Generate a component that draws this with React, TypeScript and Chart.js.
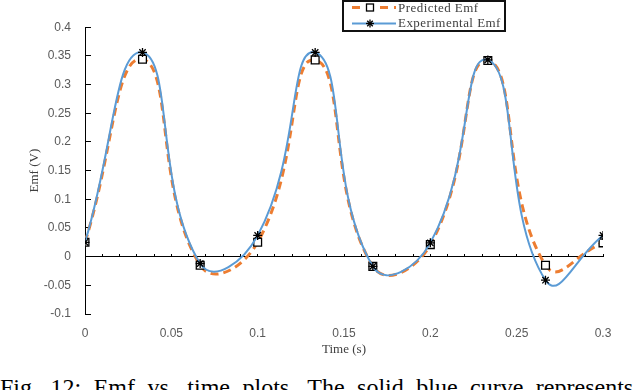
import { useEffect, useRef } from "react";
import { Chart, registerables } from "chart.js";

Chart.register(...registerables);

const timeS = [0, 0.0333, 0.0667, 0.1, 0.1333, 0.1667, 0.2, 0.2333, 0.2667, 0.3];
const predictedEmf = [0.025, 0.344, -0.015, 0.025, 0.343, -0.017, 0.021, 0.342, -0.015, 0.024];
const experimentalEmf = [0.025, 0.356, -0.012, 0.037, 0.356, -0.017, 0.024, 0.343, -0.041, 0.037];
const xTickValues = [0, 0.05, 0.1, 0.15, 0.2, 0.25, 0.3];
const yTickValues = [-0.1, -0.05, 0, 0.05, 0.1, 0.15, 0.2, 0.25, 0.3, 0.35, 0.4];
const seriesNames = ["Predicted Emf", "Experimental Emf"];
const xTitle = "Time (s)";
const yTitle = "Emf (V)";
const caption = "Fig. 12: Emf vs. time plots. The solid blue curve represents";

const ORANGE = "#ED7D31";
const BLUE = "#5B9BD5";

const fmt = (v: number | string) => `${+Number(v).toFixed(3)}`;

export default function App() {
  const ref = useRef<HTMLCanvasElement>(null);

  useEffect(() => {
    const chart = new Chart(ref.current as HTMLCanvasElement, {
      type: "line",
      data: {
        datasets: [
          {
            label: seriesNames[0],
            data: timeS.map((t, i) => ({ x: t, y: predictedEmf[i] })),
            xAxisID: "x",
            yAxisID: "y",
            borderColor: ORANGE,
            borderWidth: 3,
            borderDash: [8, 5],
            tension: 0.5,
            fill: false,
            pointStyle: "rect",
            pointRadius: 5.5,
            pointBorderColor: "#000",
            pointBackgroundColor: "#fff",
            pointBorderWidth: 1.3,
            order: 2,
          },
          {
            label: seriesNames[1],
            data: timeS.map((t, i) => ({ x: t, y: experimentalEmf[i] })),
            xAxisID: "x",
            yAxisID: "y",
            borderColor: BLUE,
            borderWidth: 2,
            tension: 0.5,
            fill: false,
            pointStyle: "star",
            pointRadius: 4.5,
            pointBorderColor: "#000",
            pointBackgroundColor: "#000",
            pointBorderWidth: 1.3,
            order: 1,
          },
        ],
      },
      options: {
        responsive: false,
        animation: false,
        events: [],
        layout: { padding: { top: 17, right: 37, left: 0, bottom: 0 } },
        plugins: { legend: { display: false }, tooltip: { enabled: false } },
        scales: {
          x: {
            type: "linear",
            position: "bottom",
            min: 0,
            max: 0.3,
            afterBuildTicks: (s: any) => {
              s.ticks = xTickValues.map((v) => ({ value: v }));
            },
            afterFit: (s: any) => {
              s.height = 46;
            },
            border: { display: false },
            grid: { display: false, drawTicks: false },
            ticks: {
              autoSkip: false,
              maxRotation: 0,
              padding: 12,
              color: "#595959",
              font: { family: "Liberation Sans", size: 12 },
              callback: fmt,
            },
            title: {
              display: true,
              text: xTitle,
              color: "#404040",
              font: { family: "Liberation Serif", size: 13 },
              padding: { top: 0, bottom: 3 },
            },
          },
          x2: {
            type: "linear",
            axis: "x",
            position: { y: 0 },
            min: 0,
            max: 0.3,
            ticks: { display: false, stepSize: 0.01, autoSkip: false },
            grid: { drawOnChartArea: false, drawTicks: true, tickLength: -3, color: "#000", lineWidth: 1 },
            border: { display: true, color: "#000", width: 1 },
          },
          y: {
            type: "linear",
            position: "left",
            min: -0.1,
            max: 0.4,
            afterBuildTicks: (s: any) => {
              s.ticks = yTickValues.map((v) => ({ value: v }));
            },
            afterFit: (s: any) => {
              s.width = 85;
            },
            border: { display: true, color: "#000", width: 1 },
            grid: { drawOnChartArea: false, drawTicks: true, tickLength: -6, color: "#000", lineWidth: 1 },
            ticks: {
              padding: 20,
              color: "#595959",
              font: { family: "Liberation Sans", size: 12 },
              callback: fmt,
            },
            title: {
              display: true,
              text: yTitle,
              color: "#404040",
              font: { family: "Liberation Serif", size: 13 },
              padding: { top: 27, bottom: 0 },
            },
          },
        },
      } as any,
    });
    return () => chart.destroy();
  }, []);

  const legendText: React.CSSProperties = {
    position: "absolute",
    left: 398,
    fontFamily: "'Liberation Serif', serif",
    fontSize: 13,
    lineHeight: "16px",
    letterSpacing: "0.45px",
    color: "#404040",
    whiteSpace: "nowrap",
  };

  return (
    <div
      style={{
        position: "absolute",
        left: 0,
        top: 0,
        width: 640,
        height: 390,
        overflow: "hidden",
        background: "#fff",
      }}
    >
      <canvas
        ref={ref}
        width={640}
        height={360}
        style={{ position: "absolute", left: 0, top: 0, width: 640, height: 360 }}
      />
      <div
        style={{
          position: "absolute",
          left: 342,
          top: 0,
          width: 164,
          height: 32,
          border: "2px solid #111",
          boxSizing: "border-box",
        }}
      />
      <svg
        width={60}
        height={32}
        style={{ position: "absolute", left: 342, top: 0 }}
      >
        <line x1={10} y1={7.5} x2={54} y2={7.5} stroke={ORANGE} strokeWidth={3} strokeDasharray="8 6" />
        <rect x={24.5} y={4} width={7} height={7} fill="#fff" stroke="#000" strokeWidth={1.3} />
        <line x1={10} y1={23.5} x2={54} y2={23.5} stroke={BLUE} strokeWidth={2} />
        <g stroke="#000" strokeWidth={1.3}>
          <line x1={28} y1={19.5} x2={28} y2={27.5} />
          <line x1={24} y1={23.5} x2={32} y2={23.5} />
          <line x1={25.2} y1={20.7} x2={30.8} y2={26.3} />
          <line x1={25.2} y1={26.3} x2={30.8} y2={20.7} />
        </g>
      </svg>
      <span style={{ ...legendText, top: -0.5 }}>{seriesNames[0]}</span>
      <span style={{ ...legendText, top: 15 }}>{seriesNames[1]}</span>
      <div
        style={{
          position: "absolute",
          left: 0,
          top: 375,
          fontFamily: "'Liberation Serif', serif",
          fontSize: 24,
          lineHeight: "24px",
          wordSpacing: "6.5px",
          whiteSpace: "nowrap",
          color: "#000",
        }}
      >
        {caption}
      </div>
    </div>
  );
}
